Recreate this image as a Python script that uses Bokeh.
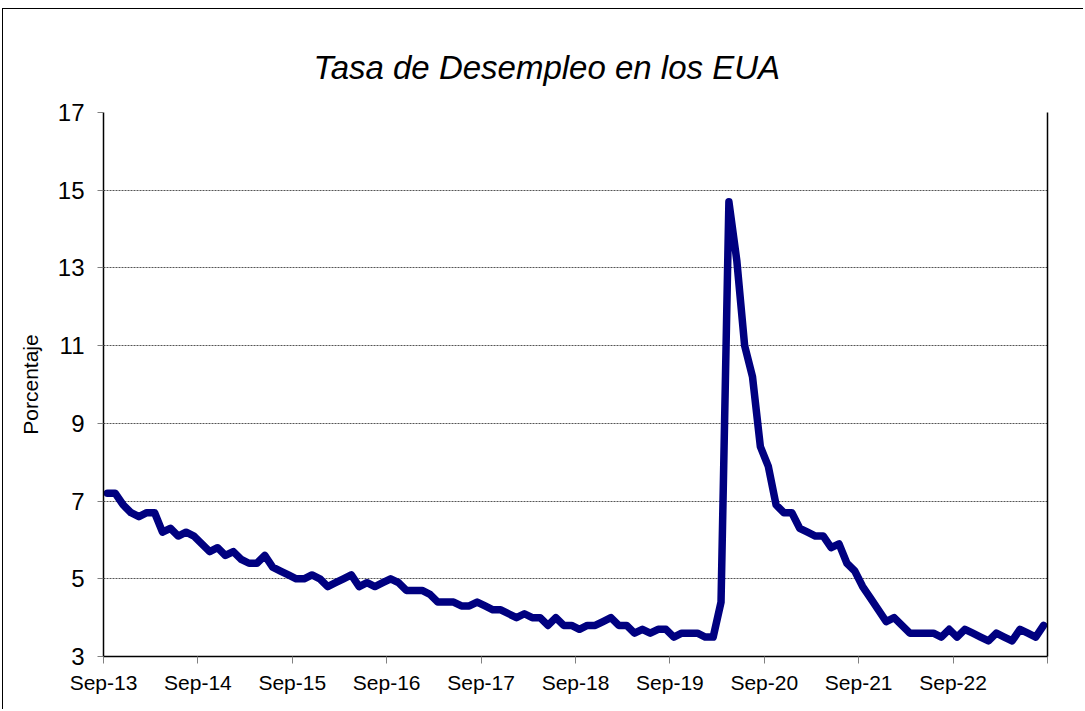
from bokeh.plotting import figure
from bokeh.models import FixedTicker, LinearAxis, Range1d
from bokeh.embed import file_html
from bokeh.resources import INLINE

# Monthly US unemployment rate, Sep-2013 .. Aug-2023 (percent)
rates = [
    7.2, 7.2, 6.9, 6.7,                                              # Sep-Dec 2013
    6.6, 6.7, 6.7, 6.2, 6.3, 6.1, 6.2, 6.1, 5.9, 5.7, 5.8, 5.6,      # 2014
    5.7, 5.5, 5.4, 5.4, 5.6, 5.3, 5.2, 5.1, 5.0, 5.0, 5.1, 5.0,      # 2015
    4.8, 4.9, 5.0, 5.1, 4.8, 4.9, 4.8, 4.9, 5.0, 4.9, 4.7, 4.7,      # 2016
    4.7, 4.6, 4.4, 4.4, 4.4, 4.3, 4.3, 4.4, 4.3, 4.2, 4.2, 4.1,      # 2017
    4.0, 4.1, 4.0, 4.0, 3.8, 4.0, 3.8, 3.8, 3.7, 3.8, 3.8, 3.9,      # 2018
    4.0, 3.8, 3.8, 3.6, 3.7, 3.6, 3.7, 3.7, 3.5, 3.6, 3.6, 3.6,      # 2019
    3.5, 3.5, 4.4, 14.7, 13.2, 11.0, 10.2, 8.4, 7.9, 6.9, 6.7, 6.7,  # 2020
    6.3, 6.2, 6.1, 6.1, 5.8, 5.9, 5.4, 5.2, 4.8, 4.5, 4.2, 3.9,      # 2021
    4.0, 3.8, 3.6, 3.6, 3.6, 3.6, 3.5, 3.7, 3.5, 3.7, 3.6, 3.5,      # 2022
    3.4, 3.6, 3.5, 3.4, 3.7, 3.6, 3.5, 3.8,                          # Jan-Aug 2023
]
month_index = list(range(len(rates)))
tick_labels = ["Sep-13", "Sep-14", "Sep-15", "Sep-16", "Sep-17",
               "Sep-18", "Sep-19", "Sep-20", "Sep-21", "Sep-22", ""]
y_ticks = [3, 5, 7, 9, 11, 13, 15, 17]

FONT = "Liberation Sans"

# points sit between category tick marks (Excel style)
xs = [i + 0.5 for i in month_index]
x_ticks = [12 * k for k in range(len(tick_labels))]

p = figure(
    frame_width=944, frame_height=544,
    min_border_left=100, min_border_right=36, min_border_top=103, min_border_bottom=53,
    x_range=Range1d(0, 120), y_range=Range1d(3, 17),
    output_backend="svg", toolbar_location=None,
    title="Tasa de Desempleo en los EUA",
    styles={"margin-left": "2px", "margin-top": "8px",
            "border-left": "1px solid #000000", "border-top": "1px solid #000000"},
)
p.outline_line_color = None
p.background_fill_color = "white"
p.border_fill_color = "white"

p.title.align = "left"
p.title.offset = 210
p.title.standoff = 53
p.title.text_font = FONT
p.title.text_font_style = "italic"
p.title.text_font_size = "33px"
p.title.text_color = "black"

p.line(xs, rates, line_color="#000080", line_width=7.5, line_join="round", line_cap="round")

# x axis
xa = p.xaxis[0]
xa.ticker = FixedTicker(ticks=x_ticks)
xa.major_label_overrides = {t: l for t, l in zip(x_ticks, tick_labels)}
xa.major_label_text_font = FONT
xa.major_label_text_font_size = "21px"
xa.major_label_text_color = "black"
xa.major_tick_out = 7
xa.major_tick_in = 0
xa.major_tick_line_color = "#808080"
xa.minor_tick_line_color = None
xa.axis_line_color = "black"
xa.axis_line_width = 1.5
xa.major_label_standoff = 7

# y axis
ya = p.yaxis[0]
ya.ticker = FixedTicker(ticks=y_ticks)
ya.major_label_text_font = FONT
ya.major_label_text_font_size = "24px"
ya.major_label_text_color = "black"
ya.major_tick_out = 6
ya.major_tick_in = 0
ya.major_tick_line_color = "#808080"
ya.minor_tick_line_color = None
ya.axis_line_color = "black"
ya.axis_line_width = 1.5
ya.major_label_standoff = 13
ya.axis_label = "Porcentaje"
ya.axis_label_text_font = FONT
ya.axis_label_text_font_size = "21px"
ya.axis_label_text_font_style = "normal"
ya.axis_label_text_color = "black"
ya.axis_label_standoff = 13

# right border line of the plot area
ra = LinearAxis(ticker=FixedTicker(ticks=[]), major_label_text_font_size="0px",
                axis_line_color="black", axis_line_width=1.5)
ra.major_tick_line_color = None
ra.minor_tick_line_color = None
p.add_layout(ra, "right")

p.xgrid.grid_line_color = None
p.ygrid.ticker = FixedTicker(ticks=y_ticks)
p.ygrid.grid_line_color = "#555555"
p.ygrid.grid_line_dash = "2 1"
p.ygrid.grid_line_width = 1

open("out.html", "w").write(file_html(p, INLINE))
